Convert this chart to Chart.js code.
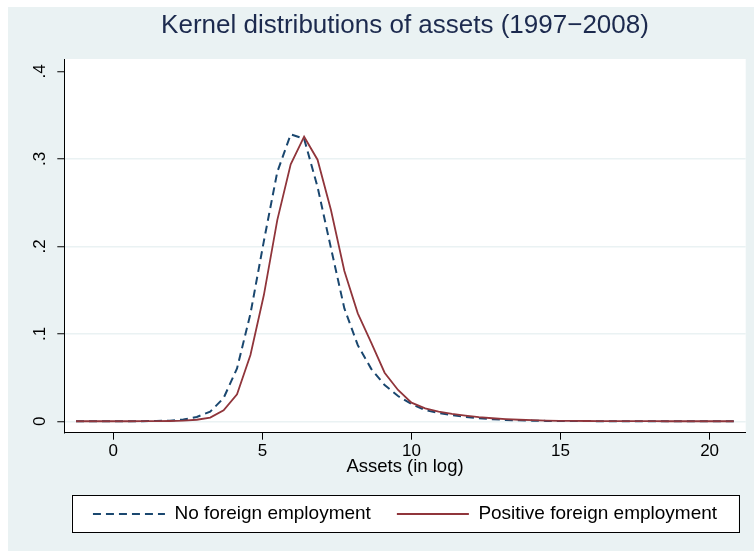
<!DOCTYPE html>
<html><head><meta charset="utf-8">
<script src="https://cdn.jsdelivr.net/npm/chart.js@4.4.0/dist/chart.umd.min.js"></script>
<style>html,body{margin:0;padding:0;background:#fff}canvas{display:block}</style>
</head><body>
<canvas id="c" width="754" height="551"></canvas>
<script>
// ---- data ----
const assetsLog = [-1.25,-0.80,-0.35,0.10,0.55,1.00,1.45,1.90,2.35,2.80,3.25,3.70,4.15,4.60,5.05,5.50,5.95,6.40,6.85,7.30,7.75,8.20,8.65,9.10,9.55,10.00,10.46,10.91,11.36,11.81,12.26,12.71,13.16,13.61,14.06,14.51,14.96,15.41,15.86,16.31,16.76,17.21,17.66,18.11,18.56,19.01,19.46,19.91,20.36,20.81];
const noForeign = [0.0001,0.0001,0.0001,0.0001,0.0002,0.0002,0.0004,0.0008,0.0020,0.0050,0.0110,0.0266,0.0605,0.1230,0.2060,0.2850,0.3280,0.3230,0.2680,0.1980,0.1290,0.0870,0.0600,0.0415,0.0289,0.0198,0.0128,0.0095,0.0070,0.0050,0.0035,0.0024,0.0016,0.0011,0.0008,0.0005,0.0004,0.0003,0.0003,0.0002,0.0002,0.0002,0.0001,0.0001,0.0001,0.0001,0.0001,0.0001,0.0001,0.0001];
const positiveForeign = [0.0001,0.0001,0.0001,0.0001,0.0001,0.0002,0.0002,0.0004,0.0008,0.0018,0.0042,0.0126,0.0308,0.0758,0.1443,0.2300,0.2937,0.3253,0.2990,0.2415,0.1718,0.1234,0.0900,0.0556,0.0358,0.0213,0.0148,0.0112,0.0085,0.0065,0.0048,0.0035,0.0025,0.0018,0.0013,0.0009,0.0006,0.0005,0.0004,0.0003,0.0003,0.0002,0.0002,0.0002,0.0001,0.0001,0.0001,0.0001,0.0001,0.0001];
const seriesLabels = ['No foreign employment','Positive foreign employment'];
const xTickValues = [0,5,10,15,20];
const xTickLabels = ['0','5','10','15','20'];
const yTickValues = [0,0.1,0.2,0.3,0.4];
const yTickLabels = ['0','.1','.2','.3','.4'];
const titleText = 'Kernel distributions of assets (1997\u22122008)';
const xTitleText = 'Assets (in log)';

// ---- style ----
const FONT = "'Liberation Sans', Arial, Helvetica, sans-serif";
const BG = '#eaf2f3';
const BLUE = '#1a476f';
const RED = '#90353b';

const bgPlugin = {
  id: 'bg',
  beforeDraw(chart) {
    const {ctx, chartArea: a} = chart;
    ctx.save();
    ctx.fillStyle = '#fff';
    ctx.fillRect(0, 0, chart.width, chart.height);
    ctx.fillStyle = BG;
    ctx.fillRect(8, 7, chart.width - 8, chart.height - 7);
    ctx.fillStyle = '#fff';
    ctx.fillRect(a.left, a.top, a.right - a.left, a.bottom - a.top);
    const hb = chart.legend && chart.legend.legendHitBoxes;
    if (hb && hb.length) {
      const c = (Math.min(...hb.map(h => h.left)) + Math.max(...hb.map(h => h.left + h.width))) / 2;
      const l = c - 333.5, r = c + 333.5;
      const t = hb[0].top - 9.5;
      const b = hb[0].top + hb[0].height + 8.5;
      ctx.fillStyle = '#fff';
      ctx.fillRect(l, t, r - l, b - t);
      ctx.strokeStyle = '#000';
      ctx.lineWidth = 1;
      ctx.strokeRect(Math.round(l) + 0.5, Math.round(t) + 0.5, Math.round(r - l), Math.round(b - t));
    }
    ctx.restore();
  }
};

new Chart(document.getElementById('c'), {
  type: 'line',
  data: {
    datasets: [
      {
        label: seriesLabels[0],
        data: assetsLog.map((x, i) => ({x, y: noForeign[i]})),
        borderColor: BLUE, backgroundColor: BLUE,
        borderWidth: 2, borderDash: [8, 5],
        pointRadius: 0, fill: false, tension: 0, order: 1
      },
      {
        label: seriesLabels[1],
        data: assetsLog.map((x, i) => ({x, y: positiveForeign[i]})),
        borderColor: RED, backgroundColor: RED,
        borderWidth: 1.8,
        pointRadius: 0, fill: false, tension: 0, order: 0
      }
    ]
  },
  options: {
    responsive: false,
    animation: false,
    devicePixelRatio: 1,
    layout: {padding: {left: 8, right: 8.3, top: 0, bottom: 17.5}},
    plugins: {
      tooltip: {enabled: false},
      title: {
        display: true, text: titleText, fullSize: false,
        color: '#1c2a4e',
        font: {family: FONT, size: 26, weight: 'normal'},
        padding: {top: 10.4, bottom: 17.4}
      },
      legend: {
        position: 'bottom', fullSize: false,
        labels: {
          usePointStyle: true, pointStyle: 'line', pointStyleWidth: 72,
          padding: 26, color: '#000',
          font: {family: FONT, size: 19},
          sort: (a, b) => a.datasetIndex - b.datasetIndex,
          generateLabels: chart => {
            const items = Chart.defaults.plugins.legend.labels.generateLabels(chart);
            items.forEach(it => {
              const ds = chart.data.datasets[it.datasetIndex];
              it.lineDash = ds.borderDash || [];
              it.lineWidth = ds.borderWidth;
              it.strokeStyle = ds.borderColor;
              it.pointStyle = 'line';
            });
            return items;
          }
        }
      }
    },
    scales: {
      x: {
        type: 'linear', min: -1.643, max: 21.21,
        afterBuildTicks: s => { s.ticks = xTickValues.map(v => ({value: v})); },
        afterFit: s => { s.height = 45.8; },
        ticks: {
          callback: (v, i) => xTickLabels[i],
          font: {family: FONT, size: 17}, color: '#000',
          padding: 1.5, maxRotation: 0, autoSkip: false
        },
        grid: {drawOnChartArea: false, drawTicks: true, tickLength: 7, tickColor: '#000', tickWidth: 1},
        border: {color: '#000', width: 1},
        title: {
          display: true, text: xTitleText, color: '#000',
          font: {family: FONT, size: 18.5},
          padding: {top: 0, bottom: 0.8}
        }
      },
      y: {
        type: 'linear', min: -0.013, max: 0.4141,
        afterBuildTicks: s => { s.ticks = yTickValues.map(v => ({value: v})); },
        afterFit: s => { s.width = 64.3 - 8; },
        ticks: {
          callback: (v, i) => yTickLabels[i],
          minRotation: 90, maxRotation: 90, crossAlign: 'center',
          padding: 10, font: {family: FONT, size: 17}, color: '#000', autoSkip: false
        },
        grid: {
          color: c => (c.tick && c.tick.value === 0.4) ? 'rgba(0,0,0,0)' : BG,
          lineWidth: 1.5, drawTicks: true, tickLength: 7, tickColor: '#000', tickWidth: 1
        },
        border: {color: '#000', width: 1}
      }
    }
  },
  plugins: [bgPlugin]
});
</script>
</body></html>
